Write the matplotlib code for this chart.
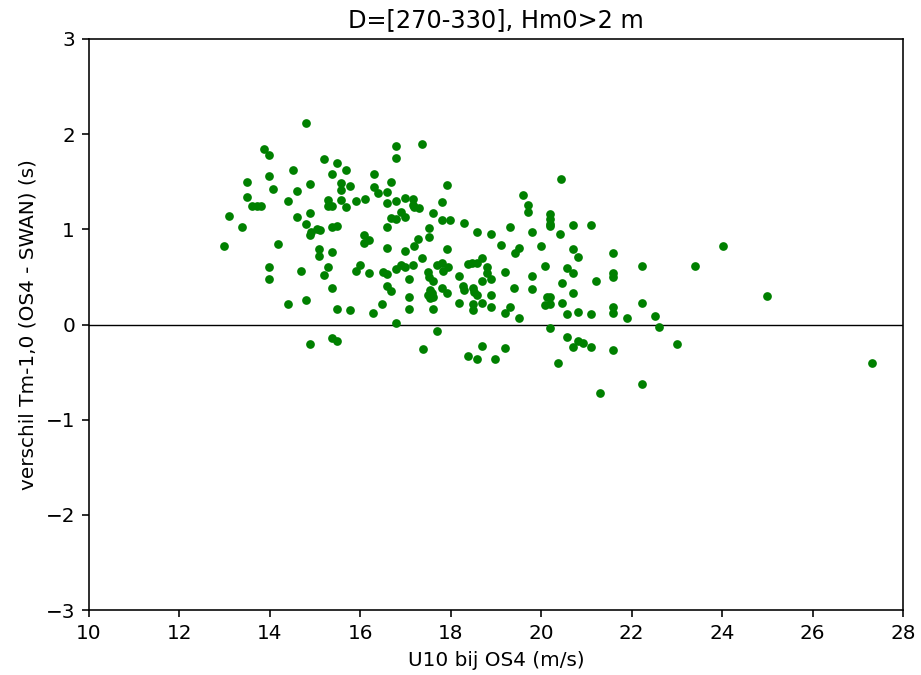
import matplotlib
matplotlib.use("Agg")
import matplotlib.pyplot as plt

u10 = [14.80, 13.87, 13.98, 15.19, 15.48, 14.51, 15.68, 15.38, 13.98, 16.30,
       13.49, 16.68, 15.58, 14.89, 15.78, 14.07, 16.30, 15.57, 14.60, 16.38,
       16.59, 13.49, 15.29, 14.40, 15.57, 15.90, 16.10, 16.59, 13.60, 13.71,
       13.80, 15.29, 15.38, 15.68, 13.10, 14.89, 14.61, 16.68, 14.80, 13.39,
       14.92, 15.04, 15.11, 14.89, 15.38, 15.48, 16.59, 16.09, 16.19, 16.09,
       14.17, 12.99, 16.59, 15.09, 15.09, 15.38, 13.98, 13.98, 14.69, 15.29,
       15.19, 15.99, 15.90, 16.20, 16.50, 16.59, 15.38, 16.59, 16.68, 14.79,
       14.40, 15.48, 15.78, 16.29, 16.49, 15.38, 15.48, 14.89,
       17.37, 16.79, 16.79, 17.91, 16.79, 16.98, 17.17, 17.81, 17.17, 17.19,
       17.29, 19.60, 20.44, 19.70, 19.70, 20.19, 20.19, 20.19, 20.19, 16.89,
       17.60, 16.79, 16.98, 17.80, 17.99, 18.30, 17.51, 17.51, 18.59, 18.88,
       19.32, 19.80, 20.42, 17.28, 17.18, 17.91, 16.98, 19.12, 19.51, 19.41,
       20.00, 17.37, 18.68,
       16.79, 16.89, 16.98, 17.17, 17.70, 17.80, 17.83, 17.50, 17.51, 17.93,
       18.38, 18.46, 18.57, 18.79, 18.79, 19.21, 20.08, 17.08, 17.60, 18.19,
       18.69, 18.88, 19.80, 17.54, 17.59, 17.50, 17.61, 17.54, 17.81, 17.92,
       18.28, 18.30, 18.49, 18.51, 18.59, 18.88, 19.40, 19.80, 20.46, 20.12,
       20.19, 20.09, 20.19, 17.08, 17.08, 17.61, 18.19, 18.50, 18.50, 18.69,
       18.88, 19.31, 19.20, 19.50, 20.46, 16.79, 17.70, 20.19, 17.38, 18.69,
       19.21, 18.39, 18.59, 18.98, 20.37,
       20.71, 21.11, 20.71, 20.82, 21.59, 24.01, 20.58, 22.22, 23.39, 20.71,
       21.59, 21.59, 21.21, 20.71, 22.22, 21.59, 21.59, 20.58, 20.82, 21.11,
       21.89, 22.51, 22.60, 20.58, 20.82, 20.92, 20.71, 21.11, 21.59, 23.00,
       22.22, 21.30, 25.00, 27.31]

dtm = [2.12, 1.84, 1.78, 1.74, 1.70, 1.62, 1.62, 1.58, 1.56, 1.58,
       1.50, 1.50, 1.49, 1.48, 1.46, 1.42, 1.44, 1.41, 1.40, 1.38,
       1.39, 1.34, 1.31, 1.30, 1.31, 1.30, 1.32, 1.28, 1.24, 1.25,
       1.25, 1.24, 1.25, 1.23, 1.14, 1.17, 1.13, 1.12, 1.06, 1.02,
       0.975, 1.00, 0.99, 0.94, 1.02, 1.035, 1.02, 0.94, 0.89, 0.86,
       0.85, 0.82, 0.80, 0.79, 0.72, 0.765, 0.60, 0.475, 0.565, 0.60,
       0.52, 0.62, 0.565, 0.54, 0.55, 0.535, 0.38, 0.40, 0.35, 0.26,
       0.215, 0.16, 0.15, 0.12, 0.215, -0.145, -0.17, -0.21,
       1.90, 1.875, 1.75, 1.47, 1.30, 1.33, 1.32, 1.29, 1.255, 1.23,
       1.22, 1.36, 1.53, 1.26, 1.18, 1.16, 1.11, 1.06, 1.03, 1.185,
       1.175, 1.11, 1.13, 1.10, 1.10, 1.07, 1.01, 0.92, 0.975, 0.955,
       1.02, 0.975, 0.955, 0.895, 0.82, 0.79, 0.77, 0.835, 0.80, 0.755,
       0.83, 0.70, 0.70,
       0.58, 0.625, 0.60, 0.625, 0.625, 0.65, 0.565, 0.55, 0.50, 0.60,
       0.64, 0.65, 0.65, 0.60, 0.54, 0.55, 0.615, 0.475, 0.457, 0.51,
       0.454, 0.475, 0.51, 0.36, 0.334, 0.31, 0.29, 0.275, 0.38, 0.33,
       0.40, 0.36, 0.38, 0.345, 0.31, 0.31, 0.38, 0.37, 0.44, 0.29,
       0.29, 0.205, 0.22, 0.29, 0.16, 0.16, 0.23, 0.22, 0.15, 0.23,
       0.18, 0.18, 0.12, 0.07, 0.23, 0.013, -0.07, -0.04, -0.26, -0.226,
       -0.244, -0.33, -0.366, -0.366, -0.40,
       1.05, 1.05, 0.79, 0.71, 0.755, 0.82, 0.59, 0.615, 0.615, 0.54,
       0.54, 0.50, 0.46, 0.334, 0.23, 0.187, 0.118, 0.107, 0.134, 0.107,
       0.071, 0.089, -0.023, -0.13, -0.17, -0.19, -0.24, -0.24, -0.27, -0.21,
       -0.63, -0.72, 0.30, -0.40]

title = "D=[270-330], Hm0>2 m"
xlabel = "U10 bij OS4 (m/s)"
ylabel = "verschil Tm-1,0 (OS4 - SWAN) (s)"
xticks = [10, 12, 14, 16, 18, 20, 22, 24, 26, 28]
yticks = [-3, -2, -1, 0, 1, 2, 3]

fig = plt.figure(figsize=(921 / 144, 675 / 144), dpi=144)
ax = fig.add_axes([89 / 921, 1 - 610 / 675, (903 - 89) / 921, (610 - 39) / 675])
ax.axhline(0, color="black", lw=0.7)
ax.scatter(u10, dtm, s=19, color="green", linewidths=0, zorder=3)
ax.set_xlim(10, 28)
ax.set_ylim(-3, 3)
ax.set_xticks(xticks)
ax.set_yticks(yticks)
ax.set_title(title)
ax.set_xlabel(xlabel)
ax.set_ylabel(ylabel)
fig.savefig("out.png", dpi=144)
